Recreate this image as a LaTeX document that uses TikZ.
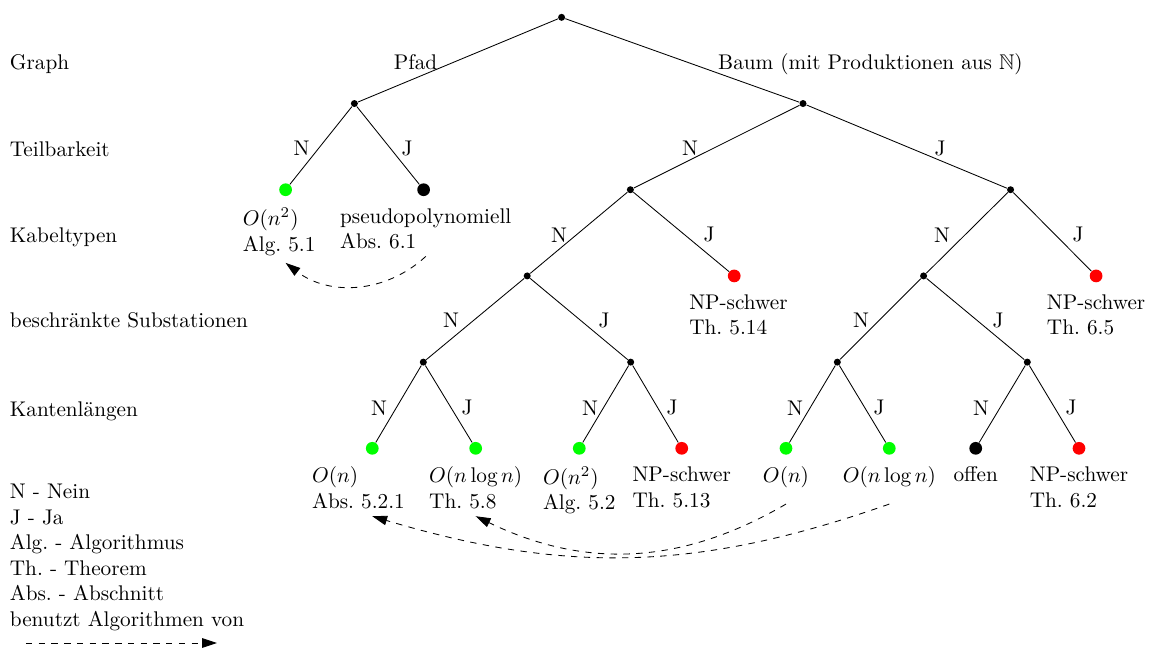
\documentclass[tikz,border=0pt]{standalone}
\usepackage{fontspec}
\usepackage{amssymb}
\usetikzlibrary{positioning,arrows.meta}
\frenchspacing

\begin{document}
\begin{tikzpicture}
		\tikzset{vertex/.style = {shape=circle, fill=black, inner sep=0pt, minimum size=3.3pt}}
		\tikzset{leaf/.style = {shape=circle, inner sep=0pt, minimum size=6pt}}
		\tikzset{info/.style = {align=left}}
		\tikzset{row/.style = {anchor=base west, inner sep=0pt}}
		\tikzset{uses/.style = {dashed, -{Triangle[length=7pt, width=4.5pt]}}}

		\useasboundingbox (0,0) rectangle (19.088,-10.728);

		% Zeilen links
		\node[row] (Z_1) at (0.157,-1.151) {Graph};
		\node[row] (Z_2) at (0.157,-2.591) {Teilbarkeit};
		\node[row] (Z_3) at (0.157,-4.015) {Kabeltypen};
		\node[row] (Z_4) at (0.157,-5.425) {beschränkte Substationen};
		\node[row] (Z_5) at (0.157,-6.895) {Kantenlängen};

		\node[anchor=north west, align=left, inner sep=0pt] (Leg) at (0.157,-8.013)
			{N - Nein\\J - Ja\\Alg. - Algorithmus\\Th. - Theorem\\Abs. - Abschnitt\\benutzt Algorithmen von};
		\coordinate (L_a) at (0.430,-10.645);
		\coordinate (L_b) at (3.592,-10.645);

		% Baum
		\node[vertex] (R) at (9.297,-0.287) {};
		\node[vertex] (P) at (5.867,-1.714) {};
		\node[vertex] (B) at (13.294,-1.714) {};
		\node[leaf, fill=green] (PN) at (4.728,-3.141) {};
		\node[leaf, fill=black] (PJ) at (7.013,-3.141) {};
		\node[vertex] (BN) at (10.436,-3.141) {};
		\node[vertex] (BJ) at (16.730,-3.141) {};
		\node[vertex] (BNN) at (8.728,-4.568) {};
		\node[leaf, fill=red] (BNJ) at (12.155,-4.568) {};
		\node[vertex] (BJN) at (15.290,-4.568) {};
		\node[leaf, fill=red] (BJJ) at (18.146,-4.568) {};
		\node[vertex] (BNNN) at (7.008,-5.995) {};
		\node[vertex] (BNNJ) at (10.441,-5.995) {};
		\node[vertex] (BJNN) at (13.862,-5.995) {};
		\node[vertex] (BJNJ) at (17.007,-5.995) {};
		\node[leaf, fill=green] (BNNNN) at (6.163,-7.422) {};
		\node[leaf, fill=green] (BNNNJ) at (7.875,-7.422) {};
		\node[leaf, fill=green] (BNNJN) at (9.590,-7.422) {};
		\node[leaf, fill=red] (BNNJJ) at (11.286,-7.422) {};
		\node[leaf, fill=green] (BJNNN) at (13.012,-7.422) {};
		\node[leaf, fill=green] (BJNNJ) at (14.722,-7.422) {};
		\node[leaf, fill=black] (BJNJN) at (16.153,-7.422) {};
		\node[leaf, fill=red] (BJNJJ) at (17.863,-7.422) {};

		% Ergebnisse
		\node[info, below=2pt of PN, xshift=-3pt] (PN_t) {$O(n^2)$\\Alg. 5.1};
		\node[info, below=2pt of PJ, xshift=1pt] (PJ_t) {pseudopolynomiell\\Abs. 6.1};
		\node[info, below=2pt of BNJ, xshift=2pt] (BNJ_t) {NP-schwer\\Th. 5.14};
		\node[info, below=2pt of BJJ] (BJJ_t) {NP-schwer\\Th. 6.5};
		\node[info, below=2pt of BNNNN, xshift=-6.5pt] (BNNNN_t) {$O(n)$\\Abs. 5.2.1};
		\node[info, below=2pt of BNNNJ] (BNNNJ_t) {$O(n\log n)$\\Th. 5.8};
		\node[info, below=2pt of BNNJN] (BNNJN_t) {$O(n^2)$\\Alg. 5.2};
		\node[info, below=2pt of BNNJJ] (BNNJJ_t) {NP-schwer\\Th. 5.13};
		\node[info, below=2pt of BJNNN] (BJNNN_t) {$O(n)$};
		\node[info, below=2pt of BJNNJ] (BJNNJ_t) {$O(n\log n)$};
		\node[info, below=2pt of BJNJN] (BJNJN_t) {offen};
		\node[info, below=2pt of BJNJJ] (BJNJJ_t) {NP-schwer\\Th. 6.2};

		% Kantenbeschriftungen
		\node[anchor=base] (P_l) at (6.879,-1.151) {Pfad};
		\node[anchor=base] (B_l) at (14.411,-1.151) {Baum (mit Produktionen aus $\mathbb{N}$)};
		\node (PN_l) at (4.991,-2.450) {N};
		\node (PJ_l) at (6.738,-2.450) {J};
		\node (BN_l) at (11.423,-2.450) {N};
		\node (BJ_l) at (15.562,-2.450) {J};
		\node (BNN_l) at (9.254,-3.890) {N};
		\node (BNJ_l) at (11.737,-3.890) {J};
		\node (BJN_l) at (15.595,-3.890) {N};
		\node (BJJ_l) at (17.846,-3.890) {J};
		\node (BNNN_l) at (7.466,-5.298) {N};
		\node (BNNJ_l) at (9.999,-5.298) {J};
		\node (BJNN_l) at (14.254,-5.298) {N};
		\node (BJNJ_l) at (16.522,-5.298) {J};
		\node (BNNNN_l) at (6.274,-6.754) {N};
		\node (BNNNJ_l) at (7.731,-6.754) {J};
		\node (BNNJN_l) at (9.767,-6.754) {N};
		\node (BNNJJ_l) at (11.125,-6.754) {J};
		\node (BJNNN_l) at (13.161,-6.754) {N};
		\node (BJNNJ_l) at (14.552,-6.754) {J};
		\node (BJNJN_l) at (16.240,-6.754) {N};
		\node (BJNJJ_l) at (17.730,-6.754) {J};


		\draw (R)--(P);
		\draw (R)--(B);
		\draw (P)--(PN);
		\draw (P)--(PJ);
		\draw (B)--(BN);
		\draw (B)--(BJ);
		\draw (BN)--(BNN);
		\draw (BN)--(BNJ);
		\draw (BJ)--(BJN);
		\draw (BJ)--(BJJ);
		\draw (BNN)--(BNNN);
		\draw (BNN)--(BNNJ);
		\draw (BJN)--(BJNN);
		\draw (BJN)--(BJNJ);
		\draw (BNNN)--(BNNNN);
		\draw (BNNN)--(BNNNJ);
		\draw (BNNJ)--(BNNJN);
		\draw (BNNJ)--(BNNJJ);
		\draw (BJNN)--(BJNNN);
		\draw (BJNN)--(BJNNJ);
		\draw (BJNJ)--(BJNJN);
		\draw (BJNJ)--(BJNJJ);


		\draw[uses] (PJ_t.south) to[bend left=40] (PN_t.south -| PN);
		\draw[uses] ([yshift=-4pt]BJNNN_t.south) to[bend left=28] (BNNNJ_t.south -| BNNNJ);
		\draw[uses] ([yshift=-4pt]BJNNJ_t.south) to[bend left=18] (BNNNN_t.south -| BNNNN);
		\draw[uses] (L_a) -- (L_b);

	\end{tikzpicture}
\end{document}
